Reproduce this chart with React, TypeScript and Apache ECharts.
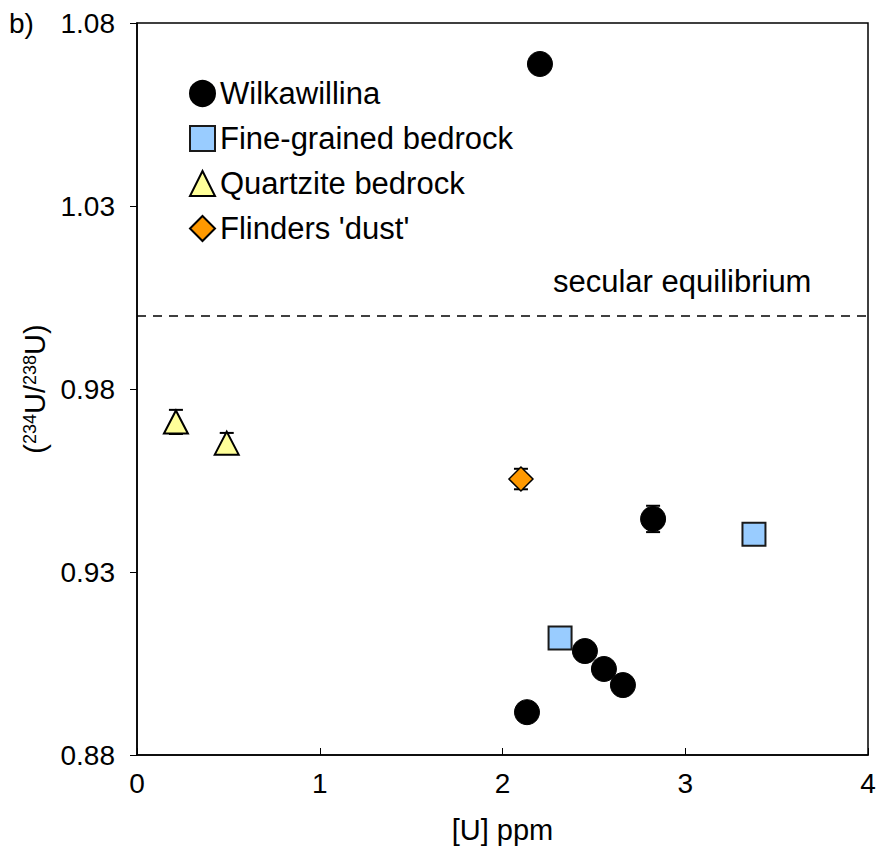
import React, { useEffect, useRef } from "react";
import * as echarts from "echarts";

const FONT = "'Liberation Sans', Arial, sans-serif";

const wilkX = [2.205, 2.824, 2.451, 2.555, 2.659, 2.134];
const wilkY = [1.0688, 0.9445, 0.9084, 0.9035, 0.8991, 0.8917];
const wilkErr = [0, 0.0036, 0, 0, 0, 0];

const fineX = [2.315, 3.376];
const fineY = [0.912, 0.9403];

const quartzX = [0.213, 0.491];
const quartzY = [0.971, 0.9652];
const quartzErr = [0.0033, 0.0028];

const dustX = [2.101];
const dustY = [0.9554];
const dustErr = [0.0028];

const xTicks = [0, 1, 2, 3, 4];
const yTicks = [0.88, 0.93, 0.98, 1.03, 1.08];
const equilibrium = 1.0;

const pts = (xs: number[], ys: number[]) => xs.map((x, i) => [x, ys[i]]);
const errs = (xs: number[], ys: number[], es: number[]) =>
  xs.map((x, i) => [x, ys[i] - es[i], ys[i] + es[i]]).filter((_, i) => es[i] > 0);

export default function App() {
  const ref = useRef<HTMLDivElement>(null);
  useEffect(() => {
    const chart = echarts.init(ref.current!, null, { renderer: "svg" });
    const errData = [
      ...errs(wilkX, wilkY, wilkErr),
      ...errs(quartzX, quartzY, quartzErr),
      ...errs(dustX, dustY, dustErr),
    ];
    chart.setOption({
      animation: false,
      backgroundColor: "#fff",
      grid: {
        left: 137,
        right: 15,
        top: 23,
        bottom: 105,
        show: true,
        borderColor: "#000",
        borderWidth: 1.5,
        backgroundColor: "transparent",
      },
      xAxis: {
        type: "value",
        min: xTicks[0],
        max: xTicks[xTicks.length - 1],
        interval: 1,
        name: "[U] ppm",
        nameLocation: "middle",
        nameGap: 60,
        nameTextStyle: { fontFamily: FONT, fontSize: 29, color: "#000" },
        axisLine: { show: true, lineStyle: { color: "#000", width: 1.5 } },
        axisTick: { show: true, inside: true, length: 7, lineStyle: { color: "#000", width: 1 } },
        axisLabel: { fontFamily: FONT, fontSize: 28, color: "#000", margin: 14 },
        splitLine: { show: false },
      },
      yAxis: {
        type: "value",
        min: yTicks[0],
        max: yTicks[yTicks.length - 1],
        interval: 0.05,
        name: "({s|234}U/{s|238}U)",
        nameLocation: "middle",
        nameRotate: 90,
        nameGap: 86,
        nameTextStyle: {
          fontFamily: FONT,
          fontSize: 29,
          color: "#000",
          rich: {
            s: { fontFamily: FONT, fontSize: 18, color: "#000", verticalAlign: "top", lineHeight: 18 },
          },
        },
        axisLine: { show: true, lineStyle: { color: "#000", width: 1.5 } },
        axisTick: { show: true, inside: false, length: 7, lineStyle: { color: "#000", width: 1 } },
        axisLabel: {
          fontFamily: FONT,
          fontSize: 28,
          color: "#000",
          margin: 22,
          formatter: (v: number) => v.toFixed(2),
        },
        splitLine: { show: false },
      },
      legend: {
        orient: "vertical",
        left: 189,
        top: 78,
        itemWidth: 25,
        itemHeight: 25,
        itemGap: 14,
        padding: 0,
        textStyle: { fontFamily: FONT, fontSize: 31, color: "#000" },
        data: ["Wilkawillina", "Fine-grained bedrock", "Quartzite bedrock", "Flinders 'dust'"],
      },
      graphic: [
        {
          type: "text",
          left: 9,
          top: 9,
          style: { text: "b)", fontFamily: FONT, fontSize: 28, fill: "#000" },
        },
        {
          type: "text",
          left: 553,
          top: 266,
          style: { text: "secular equilibrium", fontFamily: FONT, fontSize: 31, fill: "#000" },
        },
      ],
      series: [
        {
          type: "custom",
          name: "errors",
          z: 1,
          data: errData,
          renderItem: (params: any, api: any) => {
            const x = api.value(0);
            const lo = api.coord([x, api.value(1)]);
            const hi = api.coord([x, api.value(2)]);
            const hw = 7;
            const style = { stroke: "#000", lineWidth: 2 };
            return {
              type: "group",
              children: [
                { type: "line", shape: { x1: lo[0], y1: lo[1], x2: hi[0], y2: hi[1] }, style },
                { type: "line", shape: { x1: lo[0] - hw, y1: lo[1], x2: lo[0] + hw, y2: lo[1] }, style },
                { type: "line", shape: { x1: hi[0] - hw, y1: hi[1], x2: hi[0] + hw, y2: hi[1] }, style },
              ],
            };
          },
          markLine: {
            silent: true,
            symbol: "none",
            label: { show: false },
            lineStyle: { color: "#000", type: [9, 7], width: 1.5 },
            data: [{ yAxis: equilibrium }],
          },
        },
        {
          type: "scatter",
          name: "Wilkawillina",
          z: 3,
          symbol: "circle",
          symbolSize: 25,
          itemStyle: { color: "#000", borderColor: "#000", borderWidth: 1, opacity: 1 },
          data: pts(wilkX, wilkY),
        },
        {
          type: "scatter",
          name: "Fine-grained bedrock",
          z: 3,
          symbol: "rect",
          symbolSize: 23,
          itemStyle: { color: "#99CCFF", borderColor: "#1a1a1a", borderWidth: 2, opacity: 1 },
          data: pts(fineX, fineY),
        },
        {
          type: "scatter",
          name: "Quartzite bedrock",
          z: 3,
          symbol: "triangle",
          symbolSize: [24, 23],
          itemStyle: { color: "#FFFF99", borderColor: "#000", borderWidth: 2, opacity: 1 },
          data: pts(quartzX, quartzY),
        },
        {
          type: "scatter",
          name: "Flinders 'dust'",
          z: 3,
          symbol: "diamond",
          symbolSize: 24,
          itemStyle: { color: "#FF9900", borderColor: "#000", borderWidth: 1.5, opacity: 1 },
          data: pts(dustX, dustY),
        },
      ],
    });
    return () => chart.dispose();
  }, []);
  return (
    <div
      ref={ref}
      style={{ position: "fixed", left: 0, top: 0, width: 883, height: 860, background: "#fff" }}
    />
  );
}
